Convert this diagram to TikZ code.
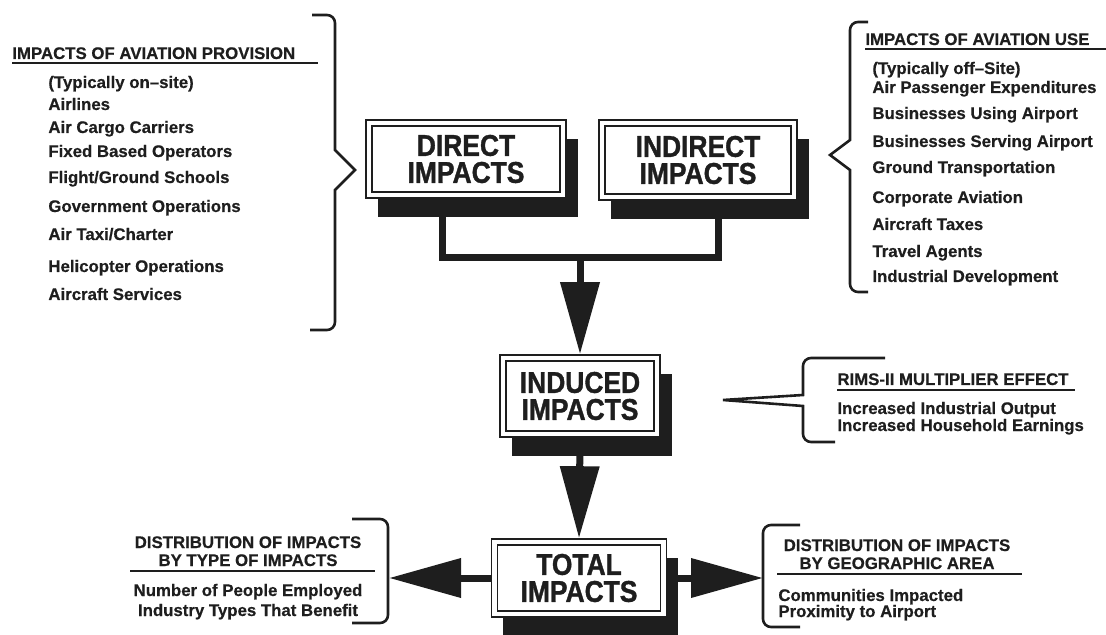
\documentclass[tikz,border=0pt]{standalone}
\usepackage{fontspec}
\setmainfont{Liberation Sans}
\newfontfamily\boxface[FakeStretch=0.88, FakeBold=1.2]{Liberation Sans}
\newfontfamily\listface[Ligatures=TeX, FakeBold=0.5]{Liberation Sans}
\usetikzlibrary{arrows.meta,shadows}

\definecolor{ink}{HTML}{1E1E1E}
\newcommand{\boxfont}{\boxface\bfseries\fontsize{15}{13.5}\selectfont}
\newcommand{\listfont}{\listface\bfseries\fontsize{8.4}{10}\selectfont}

\begin{document}
\begin{tikzpicture}[x=0.5pt, y=-0.5pt,
    impact/.style={draw=ink, line width=0.8pt, fill=white, align=center, inner sep=0pt,
      font=\boxfont, text=ink,
      drop shadow={shadow xshift=5.75pt, shadow yshift=-9.5pt, fill=ink, opacity=1},
      path picture={\draw[draw=ink, line width=0.8pt]
        ([shift={(3pt,3pt)}]path picture bounding box.south west) rectangle
        ([shift={(-3pt,-3pt)}]path picture bounding box.north east);}},
    item/.style={anchor=base west, inner sep=0pt, font=\listfont, text=ink},
    centred/.style={item, anchor=base},
    rule/.style={draw=ink, line width=1pt},
    brace/.style={draw=ink, line width=1.3pt},
    pipe/.style={draw=ink, line width=3.5pt},
    bigarrow/.style={pipe, -{Triangle[length=36pt, width=19pt]}}]

  \useasboundingbox (0,0) rectangle (1106,635);

  % impact boxes
  \node[impact, minimum width=100pt, minimum height=39pt] (direct) at (466,159) {DIRECT\\IMPACTS};
  \node[impact, minimum width=99pt, minimum height=40pt] (indirect) at (698,160) {INDIRECT\\IMPACTS};
  \node[impact, minimum width=80pt, minimum height=41pt] (induced) at (580,396) {INDUCED\\IMPACTS};
  \node[impact, minimum width=87.5pt, minimum height=39pt] (total) at (579,578) {TOTAL\\IMPACTS};

  % flow between the boxes
  \coordinate (join) at (580,258);
  \draw[pipe] ([xshift=-12pt]direct.south) |- (join);
  \draw[pipe] ([xshift=10pt]indirect.south) |- (join);
  \draw[bigarrow] (join) -- (induced.north);
  \draw[bigarrow] (induced.south) -- (total.north);

  \coordinate (typebrk) at (389,578);
  \coordinate (areabrk) at (763,578);
  \draw[bigarrow] (total.west) -- (typebrk);
  \draw[bigarrow] (total.east) -- (areabrk);

  % braces
  \draw[brace] (312,15) [rounded corners=4pt] -- (335,15) -- (335,60) [sharp corners] -- (335,150)
    -- (355,170) -- (335,190) -- (335,280) [rounded corners=4pt] -- (335,330) -- (310,330);
  \draw[brace] (868,22) [rounded corners=4pt] -- (850,22) -- (850,60) [sharp corners] -- (850,140)
    -- (830,155) -- (850,170) -- (850,250) [rounded corners=4pt] -- (850,292) -- (868,292);
  \draw[brace] (885,358) [rounded corners=4pt] -- (803,358) -- (803,380) [sharp corners] -- (803,395)
    -- (723,400) -- (803,406) -- (803,420) [rounded corners=4pt] -- (803,442) -- (835,442);
  \draw[brace] (352,519) [rounded corners=4pt] -- (388,519) -- (388,623) -- (352,623);
  \draw[brace] (800,525) [rounded corners=4pt] -- (763,525) -- (763,627) -- (800,627);

  % aviation provision
  \node[item] (provhead) at (12,59) {IMPACTS OF AVIATION PROVISION};
  \draw[rule] (12,63) -- (318,63);
  \node[item] (prov1) at (48,88) {(Typically on--site)};
  \node[item] (prov2) at (48,110) {Airlines};
  \node[item] (prov3) at (48,133) {Air Cargo Carriers};
  \node[item] (prov4) at (48,157) {Fixed Based Operators};
  \node[item] (prov5) at (48,183) {Flight/Ground Schools};
  \node[item] (prov6) at (48,212) {Government Operations};
  \node[item] (prov7) at (48,240) {Air Taxi/Charter};
  \node[item] (prov8) at (48,272) {Helicopter Operations};
  \node[item] (prov9) at (48,300) {Aircraft Services};

  % aviation use
  \node[item] (usehead) at (865,45) {IMPACTS OF AVIATION USE};
  \draw[rule] (865,49) -- (1106,49);
  \node[item] (use1) at (872,74) {(Typically off--Site)};
  \node[item] (use2) at (872,93) {Air Passenger Expenditures};
  \node[item] (use3) at (872,119) {Businesses Using Airport};
  \node[item] (use4) at (872,147) {Businesses Serving Airport};
  \node[item] (use5) at (872,173) {Ground Transportation};
  \node[item] (use6) at (872,203) {Corporate Aviation};
  \node[item] (use7) at (872,230) {Aircraft Taxes};
  \node[item] (use8) at (872,257) {Travel Agents};
  \node[item] (use9) at (872,282) {Industrial Development};

  % multiplier
  \node[item] (rimshead) at (837,385) {RIMS-II MULTIPLIER EFFECT};
  \draw[rule] (837,390) -- (1075,390);
  \node[item] (rims1) at (837,414) {Increased Industrial Output};
  \node[item] (rims2) at (837,431) {Increased Household Earnings};

  % distribution by type
  \node[centred] (typehead1) at (248,548) {DISTRIBUTION OF IMPACTS};
  \node[centred] (typehead2) at (248,566) {BY TYPE OF IMPACTS};
  \draw[rule] (130,571) -- (375,571);
  \node[centred] (type1) at (248,596) {Number of People Employed};
  \node[centred] (type2) at (248,616) {Industry Types That Benefit};

  % distribution by area
  \node[centred] (areahead1) at (897,551) {DISTRIBUTION OF IMPACTS};
  \node[centred] (areahead2) at (897,569) {BY GEOGRAPHIC AREA};
  \draw[rule] (777,574) -- (1022,574);
  \node[item] (area1) at (778,601) {Communities Impacted};
  \node[item] (area2) at (778,617) {Proximity to Airport};
\end{tikzpicture}
\end{document}
